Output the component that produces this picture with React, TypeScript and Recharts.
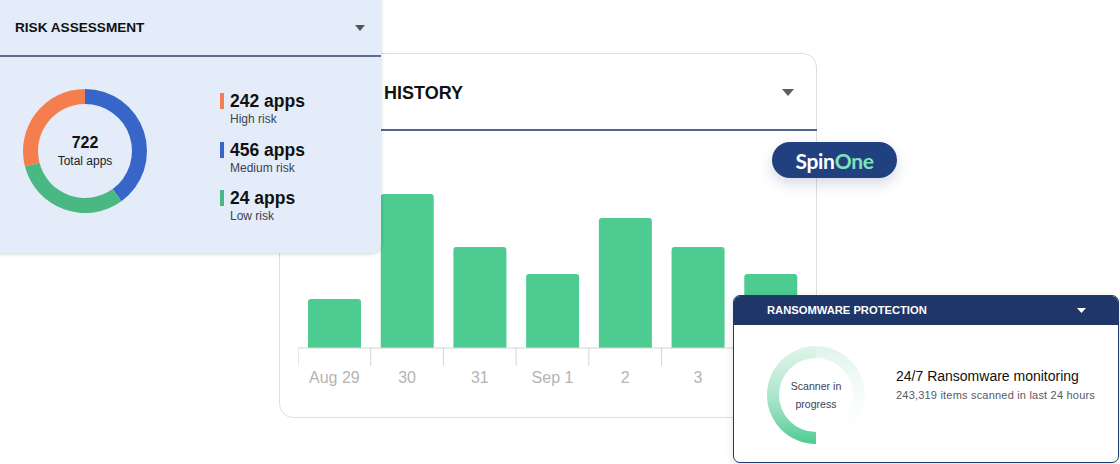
import React from 'react';
import { BarChart, Bar, XAxis, YAxis, PieChart, Pie, Cell } from 'recharts';

// ---------- data ----------
const historyDays = ['Aug 29', '30', '31', 'Sep 1', '2', '3', '4'];
const historyScans = [49, 154, 101, 74, 130, 101, 74];
const historyMax = 160;

const riskArcNames = ['Medium risk', 'Low risk', 'High risk'];
const riskArcShares = [40, 31, 29];
const riskArcColors = ['#3766c8', '#4ab882', '#f47e4e'];

const legendCounts = [242, 456, 24];
const legendLabels = ['High risk', 'Medium risk', 'Low risk'];
const legendColors = ['#f47e4e', '#3766c8', '#4ab882'];
const totalApps = 722;

const ringNames = ['scanned', 'pending'];
const ringShares = [180, 150];
const itemsScanned = '243,319';

const historyData = historyDays.map((d, i) => ({ day: d, scans: historyScans[i] }));
const riskData = riskArcNames.map((n, i) => ({ name: n, value: riskArcShares[i] }));
const ringData = ringNames.map((n, i) => ({ name: n, value: ringShares[i] }));

const FONT = '"Liberation Sans", Arial, Helvetica, sans-serif';
const CHART_W = 509;
const STEP = CHART_W / historyDays.length;

const HistoryTick = (props: any) => {
  const { x, y, payload } = props;
  const lx = x - STEP / 2;
  return (
    <g>
      <line x1={lx} x2={lx} y1={y} y2={y + 18} stroke="#d4d4d4" strokeWidth={1} />
      <text x={x} y={y + 35} textAnchor="middle" fill="#b4b4b4" fontSize={16} fontFamily={FONT}>
        {payload.value}
      </text>
    </g>
  );
};

const Caret = ({ w, h, color }: { w: number; h: number; color: string }) => (
  <svg width={w} height={h} style={{ display: 'block' }}>
    <polygon points={`0,0 ${w},0 ${w / 2},${h}`} fill={color} />
  </svg>
);

export default function App() {
  return (
    <div
      style={{
        position: 'absolute',
        left: 0,
        top: 0,
        width: 1120,
        height: 464,
        background: '#ffffff',
        overflow: 'hidden',
        fontFamily: FONT,
      }}
    >
      <svg width={0} height={0} style={{ position: 'absolute' }}>
        <defs>
          <linearGradient id="ringA" x1="0" y1="1" x2="0" y2="0">
            <stop offset="0%" stopColor="#4dcb91" stopOpacity={1} />
            <stop offset="45%" stopColor="#6fd3a5" stopOpacity={0.62} />
            <stop offset="100%" stopColor="#a9e3c7" stopOpacity={0.38} />
          </linearGradient>
          <linearGradient id="ringB" x1="0" y1="0" x2="0" y2="1">
            <stop offset="0%" stopColor="#a9e3c7" stopOpacity={0.38} />
            <stop offset="50%" stopColor="#cdeede" stopOpacity={0.2} />
            <stop offset="100%" stopColor="#e8f6ef" stopOpacity={0} />
          </linearGradient>
        </defs>
      </svg>

      {/* HISTORY card */}
      <div
        style={{
          position: 'absolute',
          left: 279,
          top: 53,
          width: 538,
          height: 365,
          background: '#fff',
          border: '1px solid #dedede',
          borderRadius: 14,
          boxSizing: 'border-box',
        }}
      />
      <div
        style={{
          position: 'absolute',
          left: 384,
          top: 82,
          fontSize: 18,
          fontWeight: 700,
          color: '#111',
          lineHeight: '22px',
        }}
      >
        HISTORY
      </div>
      <div style={{ position: 'absolute', left: 782, top: 89 }}>
        <Caret w={12} h={7} color="#5e5e5e" />
      </div>
      <div style={{ position: 'absolute', left: 380, top: 129, width: 437, height: 2, background: '#4d6790' }} />
      <div style={{ position: 'absolute', left: 298, top: 168 }}>
        <BarChart
          width={CHART_W}
          height={240}
          data={historyData}
          margin={{ top: 20, right: 0, bottom: 30, left: 0 }}
        >
          <YAxis hide domain={[0, historyMax]} />
          <XAxis
            dataKey="day"
            height={30}
            tickSize={0}
            tickMargin={0}
            tickLine={false}
            axisLine={{ stroke: '#d4d4d4' }}
            tick={<HistoryTick />}
            interval={0}
          />
          <Bar dataKey="scans" fill="#4dcb91" barSize={53} radius={[3, 3, 0, 0]} isAnimationActive={false} />
        </BarChart>
      </div>

      {/* RISK ASSESSMENT card */}
      <div
        style={{
          position: 'absolute',
          left: -12,
          top: -12,
          width: 393,
          height: 265,
          background: '#e4ecf9',
          borderRadius: 9,
          boxShadow: '0 1px 4px rgba(0,0,0,0.18)',
        }}
      />
      <div
        style={{
          position: 'absolute',
          left: 15,
          top: 20,
          fontSize: 13.6,
          fontWeight: 700,
          color: '#111',
          lineHeight: '16px',
          whiteSpace: 'nowrap',
        }}
      >
        RISK ASSESSMENT
      </div>
      <div style={{ position: 'absolute', left: 355, top: 25 }}>
        <Caret w={10} h={6} color="#555" />
      </div>
      <div style={{ position: 'absolute', left: 0, top: 55, width: 381, height: 2, background: '#5c6d8d' }} />
      <div style={{ position: 'absolute', left: 20, top: 86 }}>
        <PieChart width={130} height={130} margin={{ top: 0, right: 0, bottom: 0, left: 0 }}>
          <Pie
            data={riskData}
            dataKey="value"
            cx={65}
            cy={65}
            innerRadius={47}
            outerRadius={62}
            startAngle={90}
            endAngle={-270}
            stroke="none"
            isAnimationActive={false}
          >
            {riskData.map((_, i) => (
              <Cell key={i} fill={riskArcColors[i]} />
            ))}
          </Pie>
        </PieChart>
      </div>
      <div
        style={{
          position: 'absolute',
          left: 35,
          top: 133,
          width: 100,
          textAlign: 'center',
          color: '#111',
        }}
      >
        <div style={{ fontSize: 16, lineHeight: '20px', fontWeight: 700 }}>{totalApps}</div>
        <div style={{ fontSize: 12, lineHeight: '16px', color: '#1a1d24' }}>Total apps</div>
      </div>
      {legendCounts.map((c, i) => (
        <div key={i} style={{ position: 'absolute', left: 220, top: 90 + i * 48.5 }}>
          <div
            style={{
              position: 'absolute',
              left: 0,
              top: 3,
              width: 4,
              height: 16,
              background: legendColors[i],
            }}
          />
          <div
            style={{
              position: 'absolute',
              left: 10,
              top: 0,
              fontSize: 17.5,
              fontWeight: 700,
              color: '#111',
              whiteSpace: 'nowrap',
              lineHeight: '22px',
            }}
          >
            {c} apps
          </div>
          <div
            style={{
              position: 'absolute',
              left: 10,
              top: 22,
              fontSize: 12,
              color: '#3c4250',
              whiteSpace: 'nowrap',
              lineHeight: '15px',
            }}
          >
            {legendLabels[i]}
          </div>
        </div>
      ))}

      {/* SpinOne badge */}
      <div
        style={{
          position: 'absolute',
          left: 772,
          top: 142,
          width: 125,
          height: 36,
          borderRadius: 18,
          background: '#21407f',
          boxShadow: '0 6px 14px rgba(30,50,90,0.18)',
          display: 'flex',
          alignItems: 'center',
          justifyContent: 'center',
          fontFamily: 'Lato, "Open Sans", sans-serif',
          fontSize: 21,
          fontWeight: 700,
          letterSpacing: -0.3,
        }}
      >
        <span style={{ color: '#ffffff' }}>Spin</span>
        <span style={{ color: '#7fe3b9' }}>One</span>
      </div>

      {/* RANSOMWARE PROTECTION card */}
      <div
        style={{
          position: 'absolute',
          left: 733,
          top: 295,
          width: 386,
          height: 168,
          background: '#fff',
          border: '1.5px solid #203a6e',
          borderRadius: 7,
          boxSizing: 'border-box',
          overflow: 'hidden',
          boxShadow: '0 2px 8px rgba(0,0,0,0.12)',
        }}
      >
        <div style={{ height: 29, background: '#1e3668' }} />
      </div>
      <div
        style={{
          position: 'absolute',
          left: 767,
          top: 303,
          fontSize: 11.2,
          fontWeight: 700,
          color: '#ffffff',
          lineHeight: '14px',
          whiteSpace: 'nowrap',
        }}
      >
        RANSOMWARE PROTECTION
      </div>
      <div style={{ position: 'absolute', left: 1077, top: 308 }}>
        <Caret w={9} h={5} color="#ffffff" />
      </div>
      <div style={{ position: 'absolute', left: 761, top: 340 }}>
        <PieChart width={110} height={110} margin={{ top: 0, right: 0, bottom: 0, left: 0 }}>
          <Pie
            data={ringData}
            dataKey="value"
            cx={55}
            cy={55}
            innerRadius={37}
            outerRadius={49}
            startAngle={270}
            endAngle={-60}
            stroke="none"
            isAnimationActive={false}
          >
            <Cell fill="url(#ringA)" />
            <Cell fill="url(#ringB)" />
          </Pie>
        </PieChart>
      </div>
      <div
        style={{
          position: 'absolute',
          left: 766,
          top: 378,
          width: 100,
          textAlign: 'center',
          fontSize: 10.6,
          color: '#3b4256',
          lineHeight: '17.5px',
        }}
      >
        <div>Scanner in</div>
        <div>progress</div>
      </div>
      <div
        style={{
          position: 'absolute',
          left: 896,
          top: 367,
          fontSize: 14,
          color: '#111',
          lineHeight: '18px',
          whiteSpace: 'nowrap',
        }}
      >
        24/7 Ransomware monitoring
      </div>
      <div
        style={{
          position: 'absolute',
          left: 896,
          top: 388,
          fontSize: 11,
          color: '#555a66',
          lineHeight: '14px',
          letterSpacing: 0.2,
          whiteSpace: 'nowrap',
        }}
      >
        {itemsScanned} items scanned in last 24 hours
      </div>
    </div>
  );
}
